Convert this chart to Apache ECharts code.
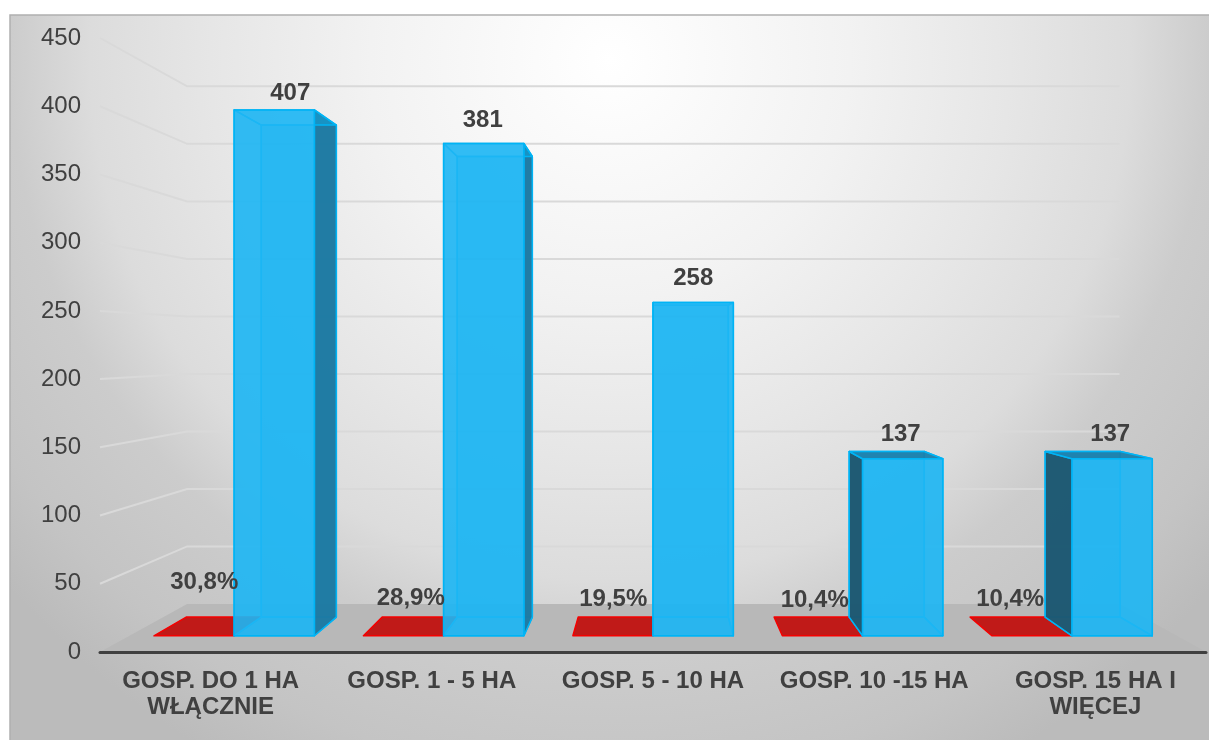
<!DOCTYPE html>
<html><head><meta charset="utf-8">
<style>html,body{margin:0;padding:0;background:#fff}#c{width:1209px;height:740px}</style>
<script src="https://cdn.jsdelivr.net/npm/echarts@6/dist/echarts.min.js"></script>
</head><body><div id="c"></div>
<script>
const categories = ['GOSP. DO 1 HA\nWŁĄCZNIE', 'GOSP. 1 - 5 HA', 'GOSP. 5 - 10 HA', 'GOSP. 10 -15 HA', 'GOSP. 15 HA I\nWIĘCEJ'];
const counts = [407, 381, 258, 137, 137];
const percents = [30.8, 28.9, 19.5, 10.4, 10.4];
const yTicks = [0, 50, 100, 150, 200, 250, 300, 350, 400, 450];

// layout of the perspective scene (not data)
const VP = [655, 346], S_FRONT = 0.947, S_BACK = 0.886, S_WALL = 0.843, BAR_BAND = 0.383;
const countNudge = [[16, -17], [-1, -23], [0, -24], [-2, -24], [-2, -24]];
const pctNudge = [[-70, -53], [-73, -37], [-80, -36], [-88, -35], [-102, -36]];
const INK = '#404040';
const proj = (p, s) => [VP[0] + s * (p[0] - VP[0]), VP[1] + s * (p[1] - VP[1])];
const poly = (pts, fill, stroke, lw) => ({ type: 'polygon', shape: { points: pts }, style: { fill, stroke: stroke || null, lineWidth: lw || 0, lineJoin: 'round' } });

function renderWalls(params, api) {
  const v = api.value(0), cs = params.coordSys;
  const y = api.coord([0, v])[1], L = cs.x, R = cs.x + cs.width;
  const a = [L, y], b = proj(a, S_WALL), c = proj([R, y], S_WALL), kids = [];
  if (v === 0) {
    kids.push(poly([a, b, c, [R, y]], '#b8b8b8'));
  } else {
    kids.push({ type: 'polyline', shape: { points: [a, b, c] }, style: { fill: null, stroke: '#d9d9d9', lineWidth: 2 } });
  }
  return { type: 'group', children: kids };
}
function box(x0, x1, y0, y1) {
  const r = { };
  r.f = [proj([x0, y1], S_FRONT), proj([x1, y1], S_FRONT), proj([x1, y0], S_FRONT), proj([x0, y0], S_FRONT)];
  r.b = [proj([x0, y1], S_BACK), proj([x1, y1], S_BACK), proj([x1, y0], S_BACK), proj([x0, y0], S_BACK)];
  return r;
}
function renderBlue(params, api) {
  const i = api.value(0), v = api.value(1), band = api.size([1, 0])[0];
  const top = api.coord([i, v]), base = api.coord([i, 0]);
  const x0 = top[0], x1 = top[0] + band * BAR_BAND;
  const { f, b } = box(x0, x1, base[1], top[1]);
  const edge = '#00b4f5', kids = [];
  const leftOut = b[0][0] < f[0][0] - 2, rightOut = b[1][0] > f[1][0] + 2, topOut = b[0][1] < f[0][1];
  kids.push(poly(b, 'rgba(0,170,235,0.6)', edge, 1.5));
  kids.push(poly([f[3], f[2], b[2], b[3]], 'rgba(0,170,235,0.5)', edge, 1.5));
  kids.push(poly([f[0], b[0], b[3], f[3]], leftOut ? 'rgba(30,85,110,0.95)' : 'rgba(0,176,240,0.4)', edge, 1.5));
  kids.push(poly([f[1], b[1], b[2], f[2]], rightOut ? 'rgba(30,120,160,0.95)' : 'rgba(0,176,240,0.4)', edge, 1.5));
  kids.push(poly([f[0], f[1], b[1], b[0]], topOut ? 'rgba(25,125,170,0.9)' : 'rgba(0,176,240,0.4)', edge, 1.5));
  kids.push(poly(f, 'rgba(32,182,243,0.85)', edge, 1.5));
  return { type: 'group', children: kids };
}
function renderRed(params, api) {
  const i = api.value(0), v = api.value(1), band = api.size([1, 0])[0];
  const top = api.coord([i, v]), base = api.coord([i, 0]);
  const x1 = top[0], x0 = top[0] - band * BAR_BAND;
  const { f, b } = box(x0, x1, base[1], top[1]);
  return poly([f[3], f[2], b[2], b[3]], '#c01a18', '#f50000', 1.5);
}
function labelAt(params, api, text, nudge) {
  const i = api.value(0), v = api.value(1), band = api.size([1, 0])[0];
  const top = api.coord([i, v]);
  const anchor = proj([top[0] + band * BAR_BAND / 2, top[1]], S_FRONT);
  return { type: 'text', style: { text, x: anchor[0] + nudge[0], y: anchor[1] + nudge[1], align: 'center', verticalAlign: 'middle',
    font: 'bold 24px "Liberation Sans", Arial, sans-serif', fill: INK } };
}
const mk = arr => arr.map((v, i) => [i, v]);
const option = {
  animation: false,
  graphic: [{ type: 'rect', z: 0, silent: true, shape: { x: 10, y: 15, width: 1220, height: 740 },
    style: { stroke: '#b0b0b0', lineWidth: 1.5,
      fill: new echarts.graphic.RadialGradient(610, 60, 800, [
        { offset: 0, color: '#ffffff' }, { offset: 0.3, color: '#f2f2f2' }, { offset: 0.5, color: '#e6e6e6' }, { offset: 0.65, color: '#dcdcdc' }, { offset: 0.75, color: '#cccccc' }, { offset: 0.9, color: '#c4c4c4' }, { offset: 1, color: '#bbbbbb' }], true) } }],
  grid: { left: 100, top: 38, width: 1106, height: 614, containLabel: false },
  xAxis: { type: 'category', data: categories, axisTick: { show: false },
    axisLine: { lineStyle: { color: INK, width: 3 } },
    axisLabel: { interval: 0, margin: 16, color: INK, fontFamily: '"Liberation Sans", Arial, sans-serif', fontWeight: 'bold', fontSize: 24, lineHeight: 26 }, z: 6 },
  yAxis: { type: 'value', min: 0, max: 450, interval: 50, axisLine: { show: false }, axisTick: { show: false }, splitLine: { show: false },
    axisLabel: { margin: 19, color: INK, fontFamily: '"Liberation Sans", Arial, sans-serif', fontSize: 24, padding: [5, 0, 0, 0], formatter: v => String(v), customValues: yTicks } },
  series: [
    { type: 'custom', name: 'grid', z: 1, silent: true, coordinateSystem: 'cartesian2d', data: yTicks.map(v => [v]), encode: { y: 0 }, renderItem: renderWalls, clip: false },
    { type: 'custom', name: 'Udział', z: 2, silent: true, data: mk(percents.map(p => p / 100)), renderItem: renderRed, encode: { x: 0, y: 1 }, clip: false },
    { type: 'custom', name: 'Liczba', z: 3, silent: true, data: mk(counts), renderItem: renderBlue, encode: { x: 0, y: 1 }, clip: false },
    { type: 'custom', name: 'labelsCount', z: 7, silent: true, data: mk(counts), encode: { x: 0, y: 1 }, clip: false,
      renderItem: (p, a) => labelAt(p, a, String(counts[p.dataIndex]), countNudge[p.dataIndex]) },
    { type: 'custom', name: 'labelsPct', z: 7, silent: true, data: mk(percents.map(p => p / 100)), encode: { x: 0, y: 1 }, clip: false,
      renderItem: (p, a) => labelAt(p, a, percents[p.dataIndex].toFixed(1).replace('.', ',') + '%', pctNudge[p.dataIndex]) }
  ]
};
echarts.init(document.getElementById('c'), null, { renderer: 'canvas' }).setOption(option);
</script></body></html>
